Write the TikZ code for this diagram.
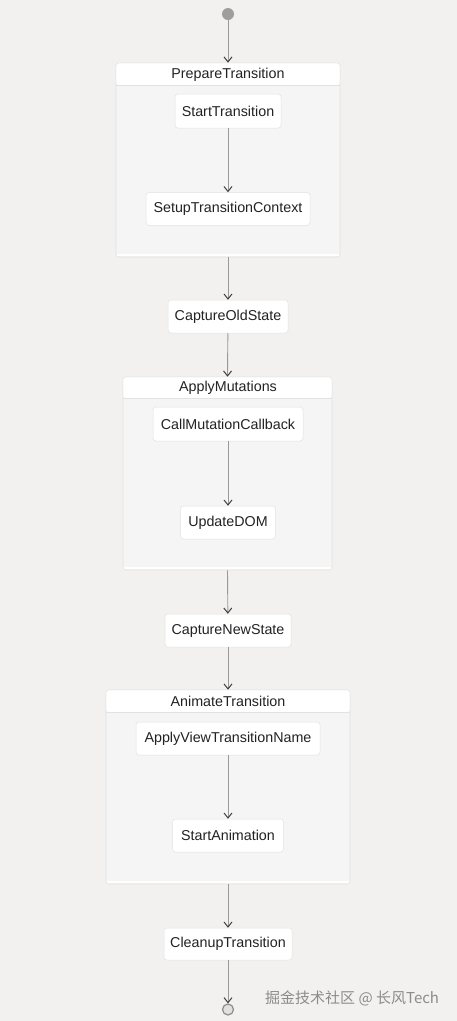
\documentclass[tikz,border=0pt]{standalone}
\usepackage{fontspec}
\setmainfont{Liberation Sans}
\newfontfamily\cjk{Noto Sans CJK SC}
\usetikzlibrary{arrows.meta}
\definecolor{bg}{HTML}{F2F1EF}
\definecolor{cbox}{HTML}{F5F5F5}
\definecolor{cline}{HTML}{E2E2E2}
\definecolor{edge}{HTML}{999999}
\definecolor{txt}{HTML}{222222}
\tikzset{
  state/.style={draw=cline, line width=0.5pt, fill=white, rounded corners=3pt, inner sep=0pt, text=txt, font=\fontsize{14.3}{16}\selectfont},
  comp/.style={draw=cline, line width=0.6pt, fill=cbox, rounded corners=3pt, inner sep=0pt},
  hdr/.style={fill=white, inner sep=0pt, text=txt, font=\fontsize{14.3}{16}\selectfont},
  conn/.style={draw=edge, line width=0.9pt, -{Straight Barb[length=5pt,width=8pt,line width=1pt,color=black!75]}},
}
\begin{document}
\begin{tikzpicture}[x=1pt,y=-1pt]
\fill[bg] (0,0) rectangle (457,1021);
\useasboundingbox (0,0) rectangle (457,1021);
% start
\node[circle, fill=black!38, minimum size=12pt, inner sep=0pt] (start) at (228,14) {};
% PrepareTransition
\node[comp, minimum width=224pt, minimum height=194pt] (prep) at (228,160) {};
\fill[white, rounded corners=3pt] (116.3,63.3) rectangle (339.7,85);
\draw[cline, line width=0.6pt] (116.3,85) -- (339.7,85);
\draw[white, line width=1.5pt] (116.6,255) -- (339.4,255);
\node[hdr] (prepL) at (228,74.5) {PrepareTransition};
\node[state, minimum width=106pt, minimum height=34pt] (st) at (228,111) {StartTransition};
\node[state, minimum width=164pt, minimum height=33pt] (setup) at (228,209) {SetupTransitionContext};
% CaptureOldState
\node[state, minimum width=120pt, minimum height=33pt] (old) at (228,316.5) {CaptureOldState};
% ApplyMutations
\node[comp, minimum width=209pt, minimum height=193pt] (mut) at (227.5,473.5) {};
\fill[white, rounded corners=3pt] (123.3,377.3) rectangle (331.7,398);
\draw[cline, line width=0.6pt] (123.3,398) -- (331.7,398);
\draw[white, line width=1.5pt] (123.6,568) -- (331.4,568);
\node[hdr] (mutL) at (228,388) {ApplyMutations};
\node[state, minimum width=150pt, minimum height=34pt] (call) at (228,424) {CallMutationCallback};
\node[state, minimum width=95pt, minimum height=33pt] (dom) at (228,522.5) {UpdateDOM};
% CaptureNewState
\node[state, minimum width=126pt, minimum height=33pt] (new) at (228,630.5) {CaptureNewState};
% AnimateTransition
\node[comp, minimum width=244pt, minimum height=194pt] (anim) at (228,787) {};
\fill[white, rounded corners=3pt] (106.3,690.3) rectangle (349.7,712);
\draw[cline, line width=0.6pt] (106.3,712) -- (349.7,712);
\draw[white, line width=1.5pt] (106.6,882) -- (349.4,882);
\node[hdr] (animL) at (228,701) {AnimateTransition};
\node[state, minimum width=184pt, minimum height=33pt] (avt) at (228,738.5) {ApplyViewTransitionName};
\node[state, minimum width=111pt, minimum height=33pt] (sa) at (228,835.5) {StartAnimation};
% CleanupTransition
\node[state, minimum width=128pt, minimum height=32pt] (clean) at (228,944) {CleanupTransition};
% end
\node[circle, draw=black!45, line width=1.2pt, fill=black!12, minimum size=11pt, inner sep=0pt] (end) at (228,1009.5) {};
% connectors
\draw[conn] (start) -- (prep.north);
\draw[conn] (st) -- (setup);
\draw[conn] (prep.south) -- (old);
\draw[conn] (old) -- (mut.north);
\draw[conn] (call) -- (dom);
\draw[conn] (mut.south) -- (new);
\draw[conn] (new) -- (anim.north);
\draw[conn] (avt) -- (sa);
\draw[conn] (anim.south) -- (clean);
\draw[conn] (clean) -- (end);
% watermark
\node[text=black!45, font=\cjk\fontsize{15}{17}\selectfont, anchor=west, inner sep=0pt] (wm) at (265,998) {掘金技术社区 @ 长风Tech};
\end{tikzpicture}
\end{document}
